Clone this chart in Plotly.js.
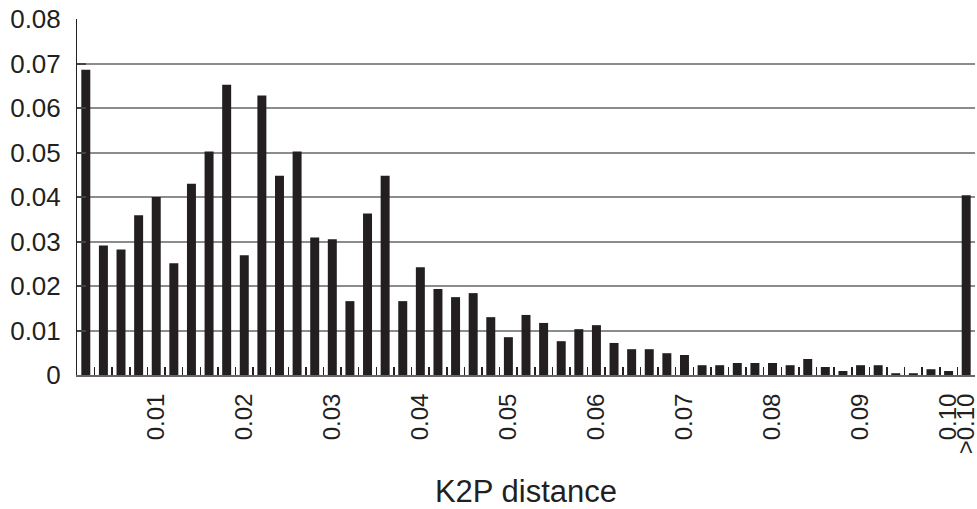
<!DOCTYPE html>
<html>
<head>
<meta charset="utf-8">
<script src="https://cdn.plot.ly/plotly-3.0.1.min.js"></script>
<style>html,body{margin:0;padding:0;background:#fff;}#chart{width:977px;height:509px;}</style>
</head>
<body>
<div id="chart"></div>
<script>
const categories = ['0.002','0.004','0.006','0.008','0.010','0.012','0.014','0.016','0.018','0.020',
  '0.022','0.024','0.026','0.028','0.030','0.032','0.034','0.036','0.038','0.040',
  '0.042','0.044','0.046','0.048','0.050','0.052','0.054','0.056','0.058','0.060',
  '0.062','0.064','0.066','0.068','0.070','0.072','0.074','0.076','0.078','0.080',
  '0.082','0.084','0.086','0.088','0.090','0.092','0.094','0.096','0.098','0.100','>0.10'];
const frequency = [0.0686,0.0291,0.0282,0.0359,0.0400,0.0251,0.0430,0.0502,0.0652,0.0269,
  0.0628,0.0448,0.0502,0.0309,0.0305,0.0166,0.0363,0.0448,0.0166,0.0242,
  0.0193,0.0175,0.0184,0.0130,0.0085,0.0135,0.0117,0.0076,0.0103,0.0112,
  0.0072,0.0058,0.0058,0.0049,0.0045,0.0022,0.0022,0.0027,0.0027,0.0027,
  0.0022,0.0036,0.0018,0.0009,0.0022,0.0022,0.0004,0.0004,0.0013,0.0009,0.0404];
const labeledCategories = ['0.010','0.020','0.030','0.040','0.050','0.060','0.070','0.080','0.090','0.100','>0.10'];
const labeledText = ['0.01','0.02','0.03','0.04','0.05','0.06','0.07','0.08','0.09','0.10','>0.10'];

const tickText = categories.map(c => {
  const k = labeledCategories.indexOf(c);
  return k >= 0 ? labeledText[k] : '';
});

const ink = '#231f20';
const font = 'Liberation Sans, Arial, sans-serif';

Plotly.newPlot('chart', [{
  type: 'bar',
  x: categories,
  y: frequency,
  marker: {color: ink, line: {width: 0}},
  hoverinfo: 'x+y'
}], {
  width: 977, height: 509,
  margin: {l: 77, r: 2, t: 19, b: 134, pad: 0},
  paper_bgcolor: '#fff', plot_bgcolor: '#fff',
  bargap: 0.49,
  showlegend: false,
  font: {family: font, color: ink},
  xaxis: {
    type: 'category',
    tickmode: 'array',
    tickvals: categories,
    ticktext: tickText,
    tickson: 'boundaries',
    ticks: 'inside', ticklen: 8, tickwidth: 1.5, tickcolor: '#222',
    tickangle: -90,
    tickfont: {size: 24, family: font, color: ink},
    ticklabelstandoff: 7,
    showline: true, linecolor: '#666', linewidth: 2,
    showgrid: false, zeroline: false,
    automargin: false,
    title: {text: 'K2P distance', font: {size: 31, family: font, color: ink}, standoff: 29}
  },
  yaxis: {
    range: [0, 0.08],
    tickmode: 'linear', tick0: 0, dtick: 0.01,
    ticks: 'inside', ticklen: 9, tickwidth: 2, tickcolor: '#444',
    tickfont: {size: 26, family: font, color: ink},
    ticklabelstandoff: 10,
    showline: true, linecolor: '#222', linewidth: 1,
    showgrid: true, gridcolor: '#8c8c8c', gridwidth: 2,
    zeroline: false,
    automargin: false
  }
}, {displayModeBar: false, staticPlot: true});
</script>
</body>
</html>
